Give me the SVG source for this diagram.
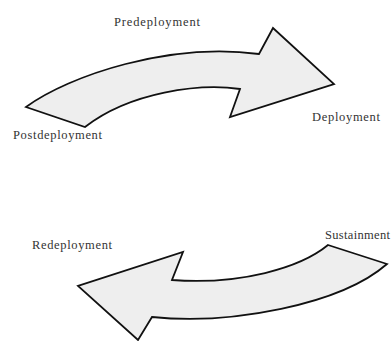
<svg xmlns="http://www.w3.org/2000/svg" width="392" height="341" viewBox="0 0 392 341">
  <style>
    .arrow { fill: #eeeeee; stroke: #111; stroke-width: 1.8; stroke-linejoin: miter; }
    .label { font-family: "Liberation Serif", "Times New Roman", serif; font-size: 12.5px; fill: #333; }
  </style>
  <rect width="392" height="341" fill="#fff"/>
  <!-- curved cycle arrows -->
  <g id="connectors">
    <path id="arrow-forward" class="arrow" d="M 26 107 C 70 75, 170 42, 259 54 L 273 28 L 334 84 L 230 117 L 240 89 C 200 83, 130 92, 85 127 Z"/>
    <path id="arrow-back" class="arrow" d="M 328 245 L 387 264 C 340 305, 230 325, 152 317 L 138 340 L 78 286 L 183 252 L 172 280 C 240 285, 300 268, 328 245 Z"/>
  </g>
  <!-- phase labels -->
  <g id="predeployment"><text class="label" x="114" y="26" textLength="86" lengthAdjust="spacing">Predeployment</text></g>
  <g id="postdeployment"><text class="label" x="13" y="139" textLength="89" lengthAdjust="spacing">Postdeployment</text></g>
  <g id="deployment"><text class="label" x="312" y="121" textLength="68" lengthAdjust="spacing">Deployment</text></g>
  <g id="redeployment"><text class="label" x="32" y="249" textLength="80" lengthAdjust="spacing">Redeployment</text></g>
  <g id="sustainment"><text class="label" x="325" y="239" textLength="65" lengthAdjust="spacing">Sustainment</text></g>
</svg>
